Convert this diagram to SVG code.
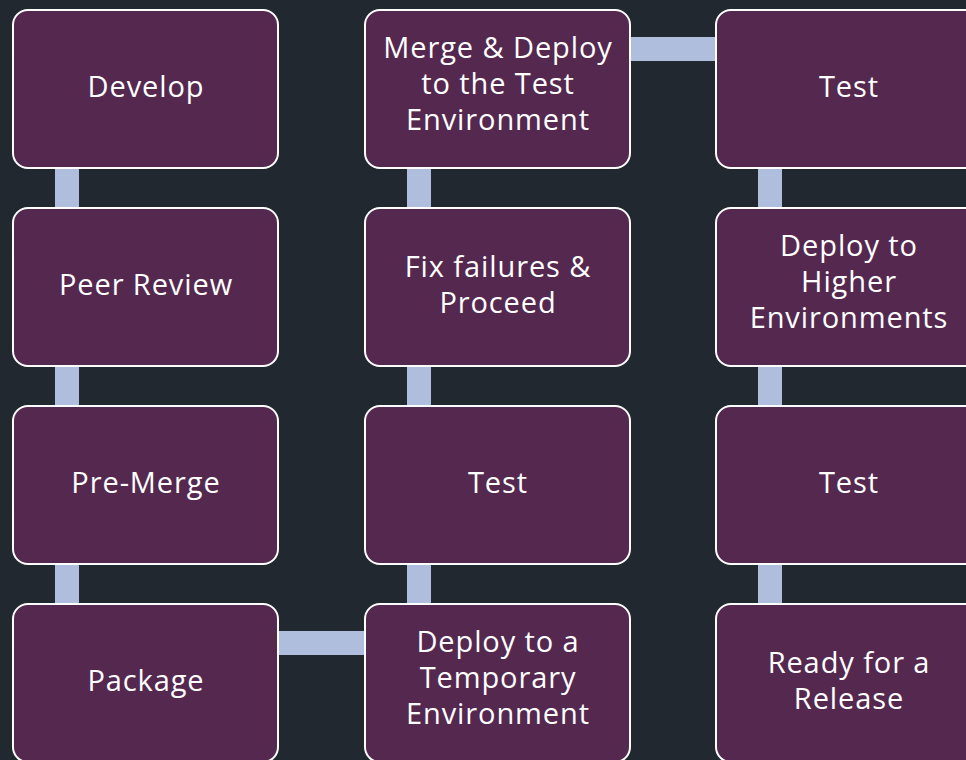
<svg xmlns="http://www.w3.org/2000/svg" width="966" height="760" viewBox="0 0 966 760">
<style>
.box{fill:#54284F;stroke:#FFFFFF;stroke-width:2}
.con{fill:#B0BEDE}
.t{font-family:"Open Sans","Noto Sans",sans-serif;font-size:29px;letter-spacing:0.9px;fill:#FFFFFF;text-anchor:middle}
</style>
<rect width="966" height="760" fill="#212830"/>
<g id="connectors">
<rect class="con" x="55" y="167" width="24" height="42"/>
<rect class="con" x="55" y="365" width="24" height="42"/>
<rect class="con" x="55" y="563" width="24" height="42"/>
<rect class="con" x="407" y="167" width="24" height="42"/>
<rect class="con" x="407" y="365" width="24" height="42"/>
<rect class="con" x="407" y="563" width="24" height="42"/>
<rect class="con" x="758" y="167" width="24" height="42"/>
<rect class="con" x="758" y="365" width="24" height="42"/>
<rect class="con" x="758" y="563" width="24" height="42"/>
<rect class="con" x="629" y="37" width="88" height="24"/>
<rect class="con" x="277" y="631" width="89" height="24"/>
</g>
<g id="develop"><rect class="box" x="13" y="10" width="265" height="158" rx="15"/><text class="t" x="146" y="97">Develop</text></g>
<g id="peer-review"><rect class="box" x="13" y="208" width="265" height="158" rx="15"/><text class="t" x="146" y="295">Peer Review</text></g>
<g id="pre-merge"><rect class="box" x="13" y="406" width="265" height="158" rx="15"/><text class="t" x="146" y="493">Pre-Merge</text></g>
<g id="package"><rect class="box" x="13" y="604" width="265" height="158" rx="15"/><text class="t" x="146" y="691">Package</text></g>
<g id="merge-deploy"><rect class="box" x="365" y="10" width="265" height="158" rx="15"/><text class="t" x="498" y="58">Merge &amp; Deploy</text><text class="t" x="498" y="94">to the Test</text><text class="t" x="498" y="130">Environment</text></g>
<g id="fix-failures"><rect class="box" x="365" y="208" width="265" height="158" rx="15"/><text class="t" x="498" y="277">Fix failures &amp;</text><text class="t" x="498" y="313">Proceed</text></g>
<g id="test-temp"><rect class="box" x="365" y="406" width="265" height="158" rx="15"/><text class="t" x="498" y="493">Test</text></g>
<g id="deploy-temp"><rect class="box" x="365" y="604" width="265" height="158" rx="15"/><text class="t" x="498" y="652">Deploy to a</text><text class="t" x="498" y="688">Temporary</text><text class="t" x="498" y="724">Environment</text></g>
<g id="test-env"><rect class="box" x="716" y="10" width="265" height="158" rx="15"/><text class="t" x="849" y="97">Test</text></g>
<g id="deploy-higher"><rect class="box" x="716" y="208" width="265" height="158" rx="15"/><text class="t" x="849" y="256">Deploy to</text><text class="t" x="849" y="292">Higher</text><text class="t" x="849" y="328">Environments</text></g>
<g id="test-higher"><rect class="box" x="716" y="406" width="265" height="158" rx="15"/><text class="t" x="849" y="493">Test</text></g>
<g id="ready"><rect class="box" x="716" y="604" width="265" height="158" rx="15"/><text class="t" x="849" y="673">Ready for a</text><text class="t" x="849" y="709">Release</text></g>
</svg>
